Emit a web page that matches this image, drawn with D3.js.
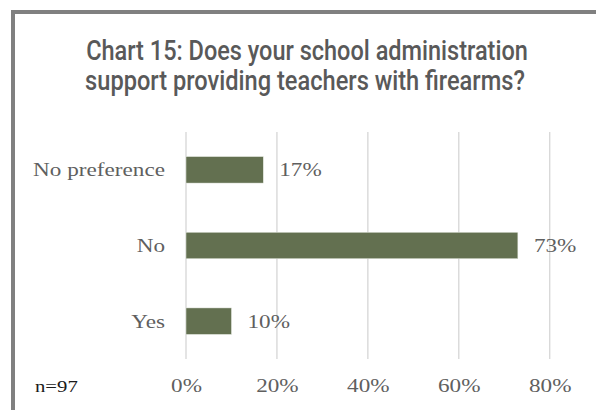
<!DOCTYPE html>
<html><head><meta charset="utf-8">
<script src="https://cdn.jsdelivr.net/npm/d3@7"></script>
<style>
html,body{margin:0;padding:0;background:#fff;}
svg{display:block;}
</style></head>
<body>
<svg id="chart" width="596" height="410"></svg>
<script>
const categories = ["No preference", "No", "Yes"];
const values = [17, 73, 10];
const ticks = [0, 20, 40, 60, 80];
const titleLines = ["Chart 15: Does your school administration", "support providing teachers with firearms?"];
const note = "n=97";

const svg = d3.select("#chart");
const W = 596, H = 410;
svg.append("rect").attr("width", W).attr("height", H).attr("fill", "#fff");

// frame (cropped chart border)
svg.append("path").attr("d", "M13,420 L13,12 L600,12")
  .attr("fill", "none").attr("stroke", "#808080").attr("stroke-width", 4);

const x = d3.scaleLinear().domain([0, 80]).range([186, 549.7]);
const y = d3.scaleBand().domain(categories).range([132, 359]).paddingInner(0.65).paddingOuter(0.325);

// gridlines
svg.append("g").selectAll("line").data(ticks).join("line")
  .attr("x1", d => x(d)).attr("x2", d => x(d))
  .attr("y1", 132).attr("y2", 359)
  .attr("stroke", "#d9d9d9").attr("stroke-width", 1.4);

// bars
svg.append("g").selectAll("rect").data(values).join("rect")
  .attr("x", x(0)).attr("y", (d, i) => y(categories[i]))
  .attr("width", d => x(d) - x(0)).attr("height", y.bandwidth())
  .attr("fill", "#637050").attr("stroke", "#e8ebe4").attr("stroke-width", 0.5);

const serif = "'Liberation Serif', 'Times New Roman', serif";
const SX = 1.22; // horizontal stretch to mimic Garamond proportions

// value labels
svg.append("g").selectAll("text").data(values).join("text")
  .attr("transform", (d, i) => `translate(${x(d) + 16},${y(categories[i]) + y.bandwidth() / 2}) scale(${SX},1)`)
  .attr("dy", "0.35em")
  .attr("font-family", serif).attr("font-size", 19).attr("fill", "#5f5f5f")
  .text(d => d + "%");

// category labels
svg.append("g").selectAll("text").data(categories).join("text")
  .attr("transform", d => `translate(165,${y(d) + y.bandwidth() / 2}) scale(${SX},1)`)
  .attr("dy", "0.35em").attr("text-anchor", "end")
  .attr("font-family", serif).attr("font-size", 19).attr("fill", "#5f5f5f")
  .text(d => d);

// x axis
const xAxis = d3.axisBottom(x).tickValues(ticks).tickFormat(d => d + "%").tickSize(0);
const gx = svg.append("g").attr("transform", "translate(0,392)").call(xAxis);
gx.select(".domain").remove();
gx.selectAll("text")
  .attr("font-family", serif).attr("font-size", 19).attr("fill", "#5f5f5f")
  .attr("y", 0).attr("dy", 0)
  .attr("transform", `scale(${SX},1)`);

// note
svg.append("text").attr("transform", `translate(35,392) scale(${SX},1)`)
  .attr("font-family", serif).attr("font-size", 17).attr("fill", "#1a1a1a").text(note);

// title: condensed look via horizontal scaling to the reference widths
const titleW = [442, 440];
const titleCx = [307, 305];
svg.append("g").selectAll("text").data(titleLines).join("text")
  .attr("text-anchor", "middle")
  .attr("font-family", "Roboto, 'Liberation Sans', sans-serif")
  .attr("font-weight", 500)
  .attr("font-size", 28).attr("fill", "#595959")
  .text(d => d)
  .each(function(d, i) {
    const natural = this.getComputedTextLength();
    const s = titleW[i] / natural;
    d3.select(this).attr("transform", `translate(${titleCx[i]},${59.5 + i * 30.5}) scale(${s},1)`);
  });
</script>
</body></html>
